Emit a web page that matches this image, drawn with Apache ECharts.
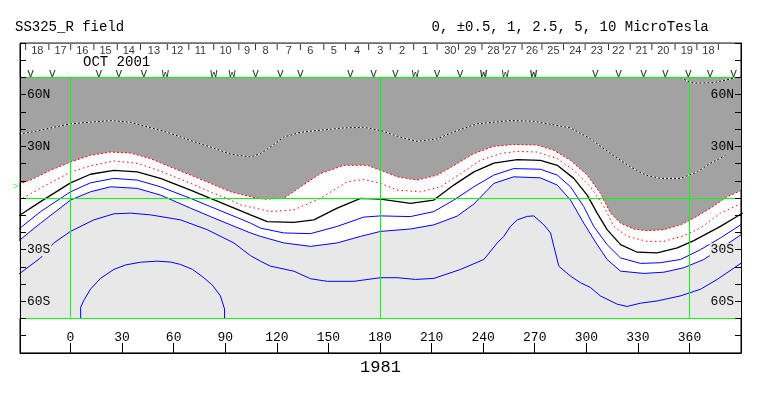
<!DOCTYPE html>
<html><head><meta charset="utf-8">
<script src="https://cdn.jsdelivr.net/npm/echarts@6/dist/echarts.min.js"></script>
<style>html,body{margin:0;padding:0;background:#fff}#c{width:763px;height:396px}</style>
</head><body><div id="c"></div>
<script>
const MONO = '"Liberation Mono", "Courier New", monospace';
const SANS = '"Liberation Sans", Arial, sans-serif';

// ---- contour lines: [Carrington longitude, latitude] ----
const contourPlus2_5 = [[-30,37.2],[-23.3,38.2],[0,43.1],[23.3,45],[34.9,44],[56.2,38.2],[69.8,33.4],[81.4,29.6],[93.1,25.5],[104.7,23.8],[110.5,25.8],[116.3,29.6],[123.9,35.3],[133.8,38.2],[143.5,39.2],[158.8,40.7],[170.4,41.1],[180.3,39.2],[191.9,35.3],[201.6,32.9],[213.3,34.4],[224.9,39.2],[236.5,43.1],[256,45],[269.3,44.6],[290.8,40.7],[302.4,34.4],[314.1,25.8],[325.7,18],[334.5,13.3],[343.1,11.4],[354.8,11.4],[364.5,15.2],[372.2,20.2],[380.9,24.8]];
const contourPlus2_5b = [[354.8,70],[358.7,68],[362.5,66.7],[374.1,67],[385.8,69.6]];
const contourPlus1 = [[-30,8.0],[-23.3,10.4],[-11.6,16.1],[0,20.9],[11.6,24.8],[23.3,26.7],[34.9,26.1],[46.5,22.9],[58.2,18],[69.8,13.3],[81.4,8.5],[93.1,3.6],[104.7,0.7],[112.4,-0.7],[124.1,-0.2],[133.8,6.5],[145.4,14.2],[159,19],[172.6,19],[180.3,16.1],[190,12.3],[201.6,10.4],[213.3,13.3],[224.9,20],[234.6,25.8],[246.2,30],[257.8,31.1],[271.4,30.8],[281.1,27.7],[290.8,21.9],[300.5,13.3],[308.2,2.7],[314.1,-8.8],[319.9,-14.6],[327.6,-18],[335.4,-19],[345.1,-18.4],[354.8,-15.6],[362.5,-11.7],[372.2,-5.9],[381.9,0.7],[391,4.8]];
const contourPlus0_5 = [[-30,-1.5],[-17.4,5.8],[0,15],[11.6,18.7],[25.2,21.5],[38.8,20.2],[52.3,15.6],[69.8,8.6],[81.4,3.5],[93.1,-1.2],[98.9,-4],[116.3,-7.9],[129.9,-6.9],[145.4,-0.2],[160.9,9.4],[170.6,10.8],[180.3,8.5],[190,4.6],[203.6,3.6],[215.2,6.5],[226.8,14.2],[238.5,21.9],[250.1,25.8],[259.8,27.1],[271.4,26.7],[283.1,22.9],[292.7,16.1],[302.4,6.5],[310.2,-5],[316,-16.5],[323.8,-22.3],[335.4,-25.2],[345.1,-25.2],[356.7,-21.9],[366.4,-17.4],[378,-8.8],[391,-2.8]];
const contourZero = [[-30,-10.3],[-17.4,-2.1],[0,8.8],[11.6,13.8],[25.2,16.1],[38.8,15.2],[52.3,11.4],[69.8,4.6],[81.4,-0.2],[93.1,-5],[104.7,-9.8],[114.4,-13.7],[129.9,-14.2],[141.5,-12.7],[155.1,-5.9],[168.7,-0.2],[180.3,-0.7],[197.7,-3.1],[211.3,-1.2],[222.9,7.5],[234.6,15.2],[246.2,20.3],[259.8,22.3],[273.3,21.9],[283.1,19],[292.7,11.4],[300.5,1.7],[306.3,-8.8],[312.1,-18.4],[319.9,-27.1],[329.6,-31.5],[341.2,-31.9],[352.9,-29],[362.5,-24.8],[378,-16.5],[391,-8.7]];
const contourMinus0_5 = [[-30,-18.0],[-17.4,-7.9],[0,3.6],[11.6,8.8],[25.2,11.4],[38.8,10.4],[52.3,6.5],[69.8,-0.2],[81.4,-5],[93.1,-9.8],[104.7,-14.6],[110.5,-17.5],[124.1,-20.3],[139.6,-20.7],[155.1,-16.5],[170.6,-11.1],[180.3,-10.4],[197.7,-10.8],[211.3,-7.9],[222.9,-1.2],[234.6,6.5],[246.2,13.3],[257.8,17.1],[273.3,16.7],[283.1,13.3],[290.8,6.5],[298.5,-5],[304.3,-16.5],[312.1,-27.1],[319.9,-34.8],[331.5,-38],[343.1,-37.6],[354.8,-35.7],[366.4,-30],[378,-23.2],[391,-14.8]];
const contourMinus1 = [[-30,-24.8],[-17.4,-14.6],[0,-1.2],[11.6,3.6],[23.3,6.5],[38.8,5.6],[52.3,1.7],[69.8,-5.9],[81.4,-10.8],[93.1,-15.6],[104.7,-20.3],[110.5,-22.3],[124.1,-26.1],[139.6,-28.1],[155.1,-26.1],[168.7,-22.3],[180.3,-19.4],[197.7,-18],[211.3,-15.6],[224.9,-10.5],[234.6,-3.5],[246.2,8.5],[257.8,12.3],[273.3,11.7],[283.1,7.5],[290.8,-1.2],[298.5,-14.6],[306.3,-27.1],[312.1,-35.7],[319.9,-42.5],[333.4,-43.8],[345.1,-43.1],[356.7,-40.5],[368.3,-35.7],[380,-28.1],[391,-20.6]];
const contourMinus2_5 = [[-30,-44.2],[-17.4,-34.8],[-9.7,-26.1],[0,-19.4],[13.6,-12.7],[25.2,-9.2],[34.9,-8.8],[46.5,-9.8],[64,-12.7],[79.5,-18.4],[95,-26.1],[104.7,-33.5],[110.5,-36.7],[116.3,-39.6],[129.9,-42.5],[139.6,-46.9],[149.3,-48.4],[164.8,-48.4],[180.3,-46.3],[190,-46.3],[200.7,-47.3],[211.3,-46.7],[226.8,-41.5],[240.4,-35.7],[248.2,-26.1],[252,-22.3],[255.9,-16.5],[259.8,-12.7],[265.6,-10.7],[269.5,-10.4],[275.3,-15.6],[279.2,-20.3],[281.1,-28.1],[284,-39.6],[290.8,-45.4],[296.6,-49.2],[302.4,-52],[308.2,-56.9],[318,-61.7],[323.8,-63],[331.5,-61.1],[341.2,-59.8],[354.6,-56.9],[366.4,-53],[376.1,-47.3],[391,-37.2]];
const contourMinus5 = [[5.9,-70],[5.9,-63.5],[8,-59],[11.6,-53],[17.4,-46.7],[25.2,-41.5],[32,-38.9],[40.7,-37.3],[50.4,-36.7],[58.2,-37.2],[64,-38.6],[71,-41.5],[77.5,-46.3],[82.6,-50.7],[87.2,-56.9],[89.6,-64.5],[89.6,-70]];

// ---- axes / annotations ----
const lonMin = -29.37, lonMax = 389.952;
const xTickValues = [0,30,60,90,120,150,180,210,240,270,300,330,360];
const latLabelValues = [-60,-30,30,60];
const dayLabels = ['18','17','16','15','14','13','12','11','10','9','8','7','6','5','4','3','2','1','30','29','28','27','26','25','24','23','22','21','20','19','18'];
const dayLabelLon = [-19.3,-5.8,6.9,20.4,33.9,48.5,62.1,75.6,90.2,102.7,113.4,126.9,139.5,153.1,166.7,180.2,192.8,206.3,220.9,232.5,246,255.9,268.4,280.9,293.6,306.1,318.7,332.3,344.8,358.4,371];
const dayTickLon = [-26.1,-12.6,0.1,13.6,27.2,40.7,56.3,68.8,83.3,97.9,107.6,120.2,133.7,147.3,159.9,173.4,186,199.6,213.2,225.7,239.3,251.7,262.6,274.2,286.7,299.3,312.9,325.5,338.1,351.6,364.3,376.8];
const obsSingleLon = [-23.2,-10.6,16.5,28.1,42.7,107.6,122.1,133.7,162.7,176.3,188.9,213.2,226.6,305.2,318.7,333.3,345.9,359.4,372.0,385.6];
const obsDoubleLon = [55.2,83.3,94.0,200.5,252.9];
const obsFilledLon = [240.2,269.3];
const greenLatLines = [70,0,-70];
const greenLonLines = [0,180,360];
const earthLat = [6.4];

const GRAY = '#a2a2a2', LGRAY = '#e8e8e8', GREEN = '#00ff00';

function lineSeries(data, color, type, extra) {
  return Object.assign({
    type: 'line', data: data, showSymbol: false, symbol: 'none', smooth: false,
    lineStyle: {color: color, width: 1, type: type}, silent: true, z: 3
  }, extra || {});
}
function textSeries(lons, lat, text, font, extra) {
  return Object.assign({
    type: 'scatter', silent: true, symbol: 'circle', symbolSize: 1, z: 6,
    itemStyle: {color: 'rgba(0,0,0,0)'},
    data: lons.map((l, i) => ({value: [l, lat], name: Array.isArray(text) ? text[i] : text})),
    label: {show: true, position: 'inside', formatter: '{b}', color: '#000',
      fontFamily: font.family, fontSize: font.size, fontWeight: font.weight || 'normal'}
  }, extra || {});
}

const latRich = {
  g: {backgroundColor: GRAY, color: '#000', fontFamily: MONO, fontSize: 13, padding: [0, 1]},
  l: {backgroundColor: LGRAY, color: '#000', fontFamily: MONO, fontSize: 13, padding: [0, 1]}
};
const latFmt = v => v > 0 ? '{g|' + v + 'N}' : '{l|' + (-v) + 'S}';

function yAx(pos) {
  return {
    type: 'value', min: -90, max: 90, interval: 10, position: pos, z: 10,
    axisLine: {show: true, onZero: false, lineStyle: {color: '#000', width: 1}},
    axisTick: {show: true, inside: true, length: 6, lineStyle: {color: '#000'}},
    axisLabel: {show: true, inside: true, margin: 6, customValues: latLabelValues,
      formatter: latFmt, rich: latRich},
    splitLine: {show: false}
  };
}

// green reference lines: [lon1, lat1, lon2, lat2], drawn pixel-crisp via the axis scales
const greenSegments = greenLatLines.map(v => [lonMin, v, lonMax, v])
  .concat(greenLonLines.map(v => [v, -70, v, 70]));
const crisp = v => Math.floor(v + 0.02) + 0.5;
const greenSeries = {
  type: 'custom', silent: true, z: 4, clip: false,
  encode: {x: [0, 2], y: [1, 3]},
  data: greenSegments,
  renderItem: (params, api) => {
    const a = api.coord([api.value(0), api.value(1)]);
    const b = api.coord([api.value(2), api.value(3)]);
    const horiz = Math.abs(a[1] - b[1]) < 0.01;
    const shape = horiz
      ? {x1: a[0], y1: crisp(a[1]), x2: b[0], y2: crisp(b[1])}
      : {x1: crisp(a[0]), y1: a[1], x2: crisp(b[0]), y2: b[1]};
    return {type: 'line', shape: shape, style: {stroke: GREEN, lineWidth: 1}};
  }
};

const option = {
  animation: false,
  backgroundColor: '#fff',
  textStyle: {fontFamily: MONO},
  grid: {left: 20, right: 22, top: 43.071, bottom: 43.071, show: true, borderColor: '#000', borderWidth: 1, backgroundColor: '#fff'},
  xAxis: {
    type: 'value', min: lonMin, max: lonMax, position: 'bottom',
    axisLine: {show: true, onZero: false, lineStyle: {color: '#000', width: 1}},
    axisTick: {show: true, inside: true, length: 10, customValues: xTickValues, lineStyle: {color: '#000'}},
    axisLabel: {show: true, inside: true, margin: 9, customValues: xTickValues, color: '#000', fontFamily: MONO, fontSize: 13},
    splitLine: {show: false},
    name: '1981', nameLocation: 'middle', nameGap: 3,
    nameTextStyle: {color: '#000', fontFamily: MONO, fontSize: 17, verticalAlign: 'top'}
  },
  yAxis: [yAx('left'), yAx('right')],
  graphic: [
    {type: 'text', x: 15, y: 27.5, silent: true, style: {text: 'SS325_R field', fill: '#000', font: '14px ' + MONO, verticalAlign: 'middle'}},
    {type: 'text', x: 431.5, y: 27.5, silent: true, style: {text: '0, \u00b10.5, 1, 2.5, 5, 10 MicroTesla', fill: '#000', font: '14px ' + MONO, verticalAlign: 'middle'}},
    {type: 'text', x: 83, y: 62.5, silent: true, style: {text: 'OCT 2001', fill: '#000', font: '14px ' + MONO, verticalAlign: 'middle'}}
  ],
  series: [
    lineSeries(contourPlus1, '#ff0000', [2, 2], {z: 1, areaStyle: {color: GRAY, opacity: 1, origin: 70}}),
    lineSeries(contourMinus1, '#0000ff', 'solid', {z: 1, areaStyle: {color: LGRAY, opacity: 1, origin: -70}}),
    greenSeries,
    lineSeries(contourPlus2_5, '#ffffff', 'solid'),
    lineSeries(contourPlus2_5, '#000000', [2, 2]),
    lineSeries(contourPlus2_5b, '#ffffff', 'solid'),
    lineSeries(contourPlus2_5b, '#000000', [2, 2]),
    lineSeries(contourPlus0_5, '#ff0000', [1.5, 3]),
    lineSeries(contourZero, '#000000', 'solid', {lineStyle: {color: '#000', width: 1.3}}),
    lineSeries(contourMinus0_5, '#0000ff', 'solid'),
    lineSeries(contourMinus2_5, '#0000ff', 'solid'),
    lineSeries(contourMinus5, '#0000ff', 'solid'),
    textSeries(dayLabelLon, 85.6, dayLabels, {family: SANS, size: 11}),
    {
      type: 'scatter', silent: true, symbol: 'rect', symbolSize: [1, 6], z: 6,
      itemStyle: {color: '#000'},
      data: dayTickLon.map(l => [l, 87.7])
    },
    textSeries(obsSingleLon, 72.0, 'v', {family: MONO, size: 12}),
    textSeries(obsDoubleLon, 72.0, 'w', {family: MONO, size: 12}),
    textSeries(obsFilledLon, 72.0, 'w', {family: MONO, size: 12, weight: 'bold'}),
    {
      type: 'scatter', silent: true, symbol: 'circle', symbolSize: 1, z: 6,
      itemStyle: {color: 'rgba(0,0,0,0)'},
      data: earthLat.map(v => [lonMin, v]),
      label: {show: true, position: 'left', distance: 1, formatter: '>', color: GREEN, fontFamily: MONO, fontSize: 9}
    }
  ]
};

const chart = echarts.init(document.getElementById('c'), null, {renderer: 'canvas'});
chart.setOption(option);
</script>
</body></html>
